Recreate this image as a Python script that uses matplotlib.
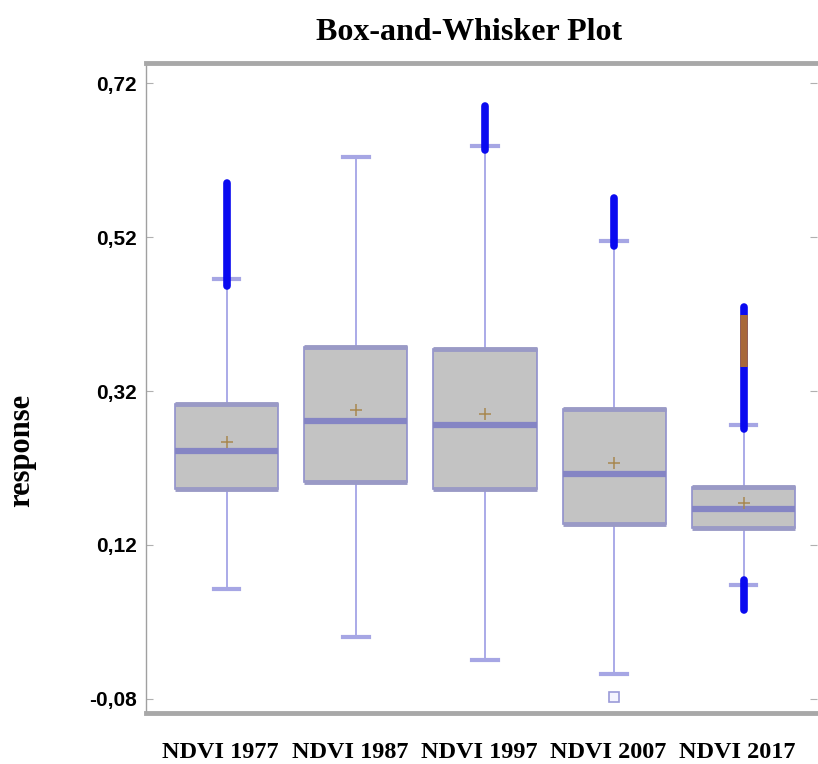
import numpy as np
import matplotlib
matplotlib.use("Agg")
import matplotlib.pyplot as plt
from matplotlib.ticker import FixedLocator, FuncFormatter
import matplotlib.transforms as mtransforms

labels = ["NDVI 1977", "NDVI 1987", "NDVI 1997", "NDVI 2007", "NDVI 2017"]
q1 = [0.193, 0.202, 0.193, 0.147, 0.142]
med = [0.242, 0.281, 0.276, 0.212, 0.167]
q3 = [0.303, 0.377, 0.374, 0.297, 0.195]
means = [0.254, 0.295, 0.290, 0.226, 0.175]
whislo = [0.063, 0.001, -0.029, -0.048, 0.068]
whishi = [0.465, 0.624, 0.638, 0.515, 0.276]

# outlier columns (dense runs of points) as [low, high]
up_out_lo = [0.456, np.nan, 0.633, 0.508, 0.270]
up_out_hi = [0.590, np.nan, 0.690, 0.571, 0.429]
low_out_lo = [np.nan, np.nan, np.nan, np.nan, 0.036]
low_out_hi = [np.nan, np.nan, np.nan, np.nan, 0.074]
orange_lo, orange_hi = 0.351, 0.419   # NDVI 2017 highlighted run
single_out_2007 = -0.077

yticks = [-0.08, 0.12, 0.32, 0.52, 0.72]

serif = ["Liberation Serif", "DejaVu Serif"]
narrow = ["Liberation Sans Narrow", "Liberation Sans", "DejaVu Sans"]

fig = plt.figure(figsize=(8.18, 7.64), dpi=100)
ax = fig.add_axes([0.179, 0.067, 0.82, 0.8505])

pos = np.arange(1, len(labels) + 1)
stats = []
for i in range(len(labels)):
    stats.append(dict(med=med[i], q1=q1[i], q3=q3[i], mean=means[i],
                      whislo=whislo[i], whishi=whishi[i], fliers=[],
                      label=labels[i]))

ax.bxp(stats, positions=pos, widths=0.8, patch_artist=True, showmeans=True,
       showfliers=False,
       boxprops=dict(facecolor="#c3c3c3", edgecolor="#9090cc", linewidth=1.2),
       medianprops=dict(color="#8585c4", linewidth=4.5, solid_capstyle="butt"),
       whiskerprops=dict(color="#aaaae8", linewidth=1.4),
       capprops=dict(color="#a6a6e4", linewidth=3),
       capwidths=0.2,
       meanprops=dict(marker="+", markeredgecolor="#a88850", markersize=9,
                      markeredgewidth=1.1))

# darker top/bottom bands of the boxes
ax.hlines(q3, pos - 0.4, pos + 0.4, colors="#9a9ac6", linewidth=3.5, zorder=3)
ax.hlines(q1, pos - 0.4, pos + 0.4, colors="#9a9ac6", linewidth=3.5, zorder=3)

# outliers
ax.vlines(pos, up_out_lo, up_out_hi, colors="#0a0af0", linewidth=5.5, zorder=4,
          capstyle="round")
ax.vlines(pos, low_out_lo, low_out_hi, colors="#0a0af0", linewidth=5.5, zorder=4,
          capstyle="round")
ax.vlines(pos[4], orange_lo, orange_hi, colors="#a8683a", linewidth=5.5, zorder=5)
ax.plot(pos[3], single_out_2007, marker="s", markersize=7, markerfacecolor="#f4f4ff",
        markeredgecolor="#9a9ad8", markeredgewidth=1.2, zorder=4)

ax.set_xlim(0.38, 5.57)
ax.set_ylim(-0.098, 0.746)

ax.yaxis.set_major_locator(FixedLocator(yticks))
ax.yaxis.set_major_formatter(FuncFormatter(lambda v, p: f"{v:.2f}".replace(".", ",")))
ax.tick_params(axis="y", direction="in", length=5, color="#b0b0b0", right=True,
               labelsize=15, pad=7)
for t in ax.get_yticklabels():
    t.set_family(narrow)
    t.set_fontweight("bold")

ax.set_xticks(pos)
ax.set_xticklabels(labels, fontfamily=serif, fontweight="bold", fontsize=17.5)
ax.tick_params(axis="x", length=0, pad=21)
shift = mtransforms.ScaledTranslation(-6 / 100, 0, fig.dpi_scale_trans)
for t in ax.get_xticklabels():
    t.set_transform(t.get_transform() + shift)

for side in ["top", "bottom"]:
    ax.spines[side].set_color("#a8a8a8")
    ax.spines[side].set_linewidth(3.5)
ax.spines["left"].set_color("#a0a0a0")
ax.spines["left"].set_linewidth(1)
ax.spines["right"].set_visible(False)

fig.text(0.573, 0.957, "Box-and-Whisker Plot", ha="center", va="center",
         fontfamily=serif, fontweight="bold", fontsize=23)
fig.text(0.027, 0.41, "response", rotation=90, ha="center", va="center",
         fontfamily=serif, fontweight="bold", fontsize=22)

fig.savefig("out.png", dpi=100)
